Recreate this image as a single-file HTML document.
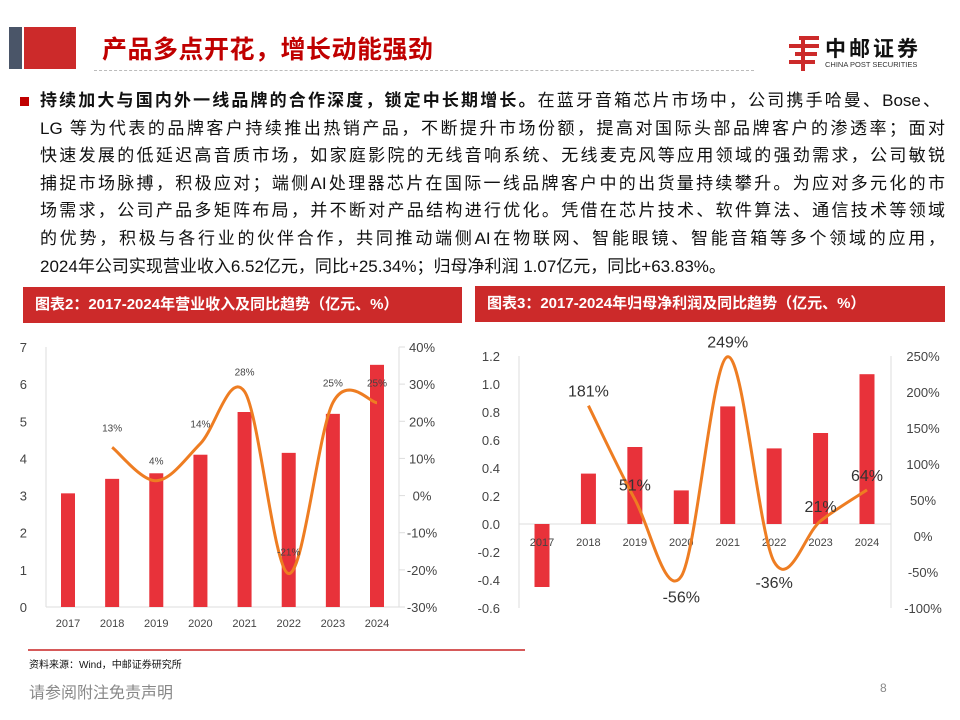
<!DOCTYPE html>
<html><head><meta charset="utf-8">
<style>
body{margin:0;width:960px;height:720px;background:#fff;overflow:hidden;position:relative;font-family:"Liberation Sans","Noto Sans CJK SC",sans-serif;}
.abs{position:absolute;}
#para{left:40px;top:87px;width:905px;font-size:17px;line-height:27.6px;color:#111;}
#para span{display:block;text-align:justify;text-align-last:justify;white-space:nowrap;}
#para span.last{text-align-last:left;}
#para b{font-weight:bold;}
.hdr{background:#cc2a2a;color:#fff;font-weight:bold;font-size:15px;line-height:36px;padding-left:12px;box-sizing:border-box;}
</style></head><body>
<div class="abs" style="left:9px;top:27px;width:13px;height:42px;background:#4a5568"></div>
<div class="abs" style="left:24px;top:27px;width:52px;height:42px;background:#cc2a2a"></div>
<div class="abs" style="left:102px;top:30px;font-size:25px;font-weight:bold;color:#c00000;letter-spacing:0.5px">产品多点开花，增长动能强劲</div>
<div class="abs" style="left:94px;top:70px;width:660px;border-top:1px dashed #bbb"></div>
<div class="abs" style="left:785px;top:33px;width:150px;height:40px">
 <svg width="40" height="40" style="position:absolute;left:0;top:0"><g fill="#cc2a2a"><rect x="14" y="3" width="20" height="4"/><rect x="4" y="11" width="30" height="4"/><rect x="10" y="19" width="22" height="4"/><rect x="4" y="27" width="26" height="4"/><rect x="16" y="3" width="4" height="35"/></g></svg>
 <div style="position:absolute;left:40px;top:0;font-size:21px;font-weight:bold;color:#111;letter-spacing:3px">中邮证券</div>
 <div style="position:absolute;left:40px;top:27px;font-size:7.5px;color:#333">CHINA POST SECURITIES</div>
</div>
<div class="abs" style="left:20px;top:97px;width:9px;height:9px;background:#c00000"></div>
<div class="abs" id="para">
<span style="width:900px"><b>持续加大与国内外一线品牌的合作深度，锁定中长期增长。</b>在蓝牙音箱芯片市场中，公司携手哈曼、Bose、</span>
<span>LG 等为代表的品牌客户持续推出热销产品，不断提升市场份额，提高对国际头部品牌客户的渗透率；面对</span>
<span>快速发展的低延迟高音质市场，如家庭影院的无线音响系统、无线麦克风等应用领域的强劲需求，公司敏锐</span>
<span>捕捉市场脉搏，积极应对；端侧AI处理器芯片在国际一线品牌客户中的出货量持续攀升。为应对多元化的市</span>
<span>场需求，公司产品多矩阵布局，并不断对产品结构进行优化。凭借在芯片技术、软件算法、通信技术等领域</span>
<span>的优势，积极与各行业的伙伴合作，共同推动端侧AI在物联网、智能眼镜、智能音箱等多个领域的应用，</span>
<span class="last">2024年公司实现营业收入6.52亿元，同比+25.34%；归母净利润 1.07亿元，同比+63.83%。</span>
</div>
<div class="abs hdr" style="left:23px;top:287px;width:439px;height:36px">图表2：2017-2024年营业收入及同比趋势（亿元、%）</div>
<div class="abs hdr" style="left:475px;top:286px;width:470px;height:36px">图表3：2017-2024年归母净利润及同比趋势（亿元、%）</div>
<svg class="abs" id="c1" style="left:0;top:0" width="960" height="720"></svg>
<div class="abs" style="left:28px;top:649px;width:497px;height:2px;background:#d65a5a"></div>
<div class="abs" style="left:29px;top:656px;font-size:10px;color:#111">资料来源：Wind，中邮证券研究所</div>
<div class="abs" style="left:29px;top:679px;font-size:16px;color:#888">请参阅附注免责声明</div>
<div class="abs" style="left:880px;top:681px;font-size:12px;color:#888">8</div>
<script>
const years=["2017","2018","2019","2020","2021","2022","2023","2024"];
const revenue=[3.06,3.45,3.6,4.1,5.25,4.15,5.2,6.52];
const revGrowth=[null,13,4,14,28,-21,25,25];
const revGrowthLabels=["","13%","4%","14%","28%","-21%","25%","25%"];
const revLeftTicks=[0,1,2,3,4,5,6,7];
const revRightTicks=["40%","30%","20%","10%","0%","-10%","-20%","-30%"];
const profit=[-0.45,0.36,0.55,0.24,0.84,0.54,0.65,1.07];
const profitGrowth=[null,181,51,-56,249,-36,21,64];
const profitGrowthLabels=["","181%","51%","-56%","249%","-36%","21%","64%"];
const profLeftTicks=["1.2","1.0","0.8","0.6","0.4","0.2","0.0","-0.2","-0.4","-0.6"];
const profRightTicks=["250%","200%","150%","100%","50%","0%","-50%","-100%"];

const svg=document.getElementById('c1');
const NS="http://www.w3.org/2000/svg";
function mk(tag,attrs,parent){const e=document.createElementNS(NS,tag);for(const k in attrs)e.setAttribute(k,attrs[k]);(parent||svg).appendChild(e);return e;}
function txt(x,y,s,size,anchor,fill){const t=mk('text',{x:x,y:y,'font-size':size,'text-anchor':anchor,fill:fill||'#444','font-family':'Liberation Sans, Noto Sans CJK SC, sans-serif'});t.textContent=s;return t;}
function smooth(pts){let d="M"+pts[0][0]+","+pts[0][1];for(let i=0;i<pts.length-1;i++){const p0=pts[i-1]||pts[i],p1=pts[i],p2=pts[i+1],p3=pts[i+2]||p2;const c1x=p1[0]+(p2[0]-p0[0])/6,c1y=p1[1]+(p2[1]-p0[1])/6,c2x=p2[0]-(p3[0]-p1[0])/6,c2y=p2[1]-(p3[1]-p1[1])/6;d+=" C"+c1x+","+c1y+" "+c2x+","+c2y+" "+p2[0]+","+p2[1];}return d;}

// Chart 1
(function(){
 const x0=68,dx=(377-68)/7,yL=v=>607-v*(260/7),yR=v=>607-(v+30)*(260/70);
 mk('line',{x1:46,y1:347,x2:46,y2:607,stroke:'#ddd'});
 mk('line',{x1:399,y1:347,x2:399,y2:607,stroke:'#ddd'});
 mk('line',{x1:46,y1:607,x2:399,y2:607,stroke:'#ddd'});
 revLeftTicks.forEach(v=>{const t=txt(27,yL(v)+5,String(v),13,'end');});
 revRightTicks.forEach((s,i)=>{mk('line',{x1:399,x2:405,y1:347+i*260/7,y2:347+i*260/7,stroke:'#ddd'});const t=txt(422,347+i*260/7+5,s,13,'middle');});
 years.forEach((y,i)=>{const x=x0+i*dx;const b=mk('rect',{x:x-7,y:Math.min(yL(revenue[i]),yL(0)),width:14,height:Math.abs(yL(revenue[i])-yL(0)),fill:'#e8323a'});
  
  
  const t=txt(x,627,y,11,'middle');});
 const pts=[];revGrowth.forEach((v,i)=>{if(v!==null)pts.push([x0+i*dx,yR(v)]);});
 const p=mk('path',{d:smooth(pts),fill:'none',stroke:'#ee7d22','stroke-width':3});
 
 
 revGrowth.forEach((v,i)=>{if(v===null)return;const t=txt(x0+i*dx,yR(v)+(v<0?-18:-16),revGrowthLabels[i],10,'middle');});
})();
// Chart 2
(function(){
 const x0=542,dx=(867-542)/7,yL=v=>524-v*(168/1.2),yR=v=>536-v*(180/250);
 mk('line',{x1:519,y1:356,x2:519,y2:608,stroke:'#ddd'});
 mk('line',{x1:891,y1:356,x2:891,y2:608,stroke:'#ddd'});
 mk('line',{x1:519,y1:524,x2:891,y2:524,stroke:'#ddd'});
 profLeftTicks.forEach((s,i)=>{const t=txt(500,356+i*28+5,s,13,'end');});
 profRightTicks.forEach((s,i)=>{const t=txt(923,356+i*36+5,s,13,'middle');});
 years.forEach((y,i)=>{const x=x0+i*dx;const b=mk('rect',{x:x-7.5,y:Math.min(yL(profit[i]),yL(0)),width:15,height:Math.abs(yL(profit[i])-yL(0)),fill:'#e8323a'});
  
  
  const t=txt(x,546,y,11,'middle');});
 const pts=[];profitGrowth.forEach((v,i)=>{if(v!==null)pts.push([x0+i*dx,yR(v)]);});
 const p=mk('path',{d:smooth(pts),fill:'none',stroke:'#ee7d22','stroke-width':3});
 
 
 profitGrowth.forEach((v,i)=>{if(v===null)return;const t=txt(x0+i*dx,yR(v)+(v<0?26:-9),profitGrowthLabels[i],16,'middle','#333');});
})();
</script>
</body></html>
